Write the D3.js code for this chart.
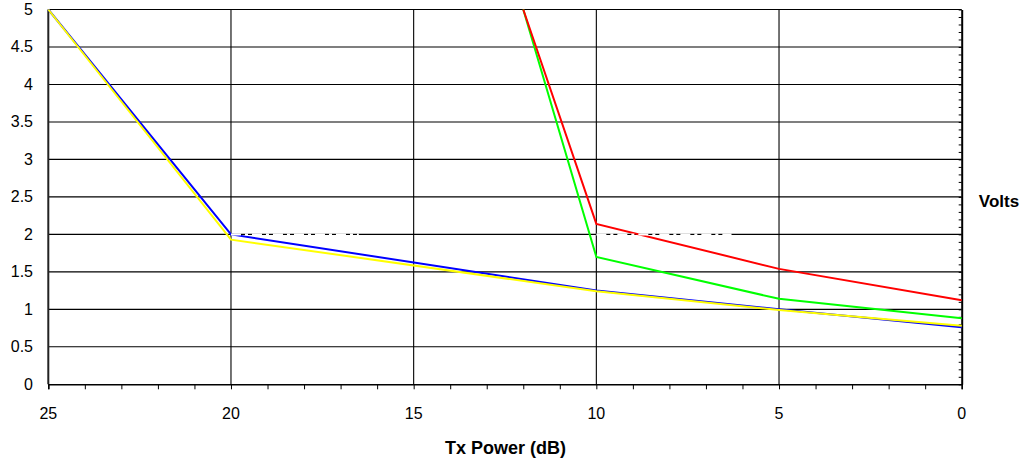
<!DOCTYPE html>
<html><head><meta charset="utf-8">
<script src="https://cdn.jsdelivr.net/npm/d3@7"></script>
<style>body{margin:0;background:#fff}svg{display:block}text{font-family:"Liberation Sans",Arial,sans-serif}</style>
</head><body><svg id="c" width="1023" height="461"></svg>
<script>
const xTicks = [25, 20, 15, 10, 5, 0];
const yTicks = [0, 0.5, 1, 1.5, 2, 2.5, 3, 3.5, 4, 4.5, 5];
const xLabel = "Tx Power (dB)";
const yLabel = "Volts";
const redX = [12, 10, 5, 0];
const redY = [5, 2.14, 1.54, 1.12];
const greenX = [12, 10, 5, 0];
const greenY = [5, 1.70, 1.14, 0.88];
const blueX = [25, 20, 10, 5, 0];
const blueY = [5, 2.0, 1.25, 1.0, 0.76];
const yellowX = [25, 20, 10, 5, 0];
const yellowY = [5, 1.93, 1.24, 0.99, 0.78];
const whiteX1 = [20, 16.5];
const whiteX2 = [10, 6.3];
const whiteY = [2, 2];

const svg = d3.select("#c");
const L = 48.3, R = 961.7, T = 9.5, B = 384.3;
const x = d3.scaleLinear().domain([25, 0]).range([L, R]);
const y = d3.scaleLinear().domain([0, 5]).range([B, T]);

// horizontal grid
svg.append("g").selectAll("line").data(yTicks.filter(d => d > 0)).join("line")
  .attr("x1", L).attr("x2", R).attr("y1", d => y(d)).attr("y2", d => y(d))
  .attr("stroke", "#000").attr("stroke-width", 1.1);
// vertical grid
svg.append("g").selectAll("line").data(xTicks.filter(d => d > 0 && d < 25)).join("line")
  .attr("x1", d => x(d)).attr("x2", d => x(d)).attr("y1", T).attr("y2", B)
  .attr("stroke", "#000").attr("stroke-width", 1.1);

// bottom axis
const xa = svg.append("g").attr("transform", `translate(0,${B})`)
  .call(d3.axisBottom(x).tickValues(d3.range(0, 26, 1)).tickSize(5).tickFormat(""));
xa.select(".domain").attr("stroke", "#000").attr("stroke-width", 1.5);
xa.selectAll(".tick line").attr("stroke", "#000");
svg.append("g").selectAll("text").data(xTicks).join("text")
  .attr("x", d => x(d)).attr("y", 419).attr("text-anchor", "middle")
  .attr("font-size", 16).text(d => d);

// left axis line and labels
svg.append("line").attr("x1", L).attr("x2", L).attr("y1", T).attr("y2", B)
  .attr("stroke", "#222").attr("stroke-width", 2);
svg.append("g").selectAll("text").data(yTicks).join("text")
  .attr("x", 33).attr("y", d => y(d) + 5.5).attr("text-anchor", "end")
  .attr("font-size", 16).text(d => d);

// right axis with inward minor ticks
const ra = svg.append("g").attr("transform", `translate(${R},0)`)
  .call(d3.axisLeft(y).tickValues(d3.range(0, 51).map(d => d / 10)).tickSize(3).tickSizeOuter(0).tickFormat(""));
ra.select(".domain").attr("stroke", "#000").attr("stroke-width", 2);
ra.selectAll(".tick line").attr("stroke", "#000");

const line = d3.line().x(d => x(d[0])).y(d => y(d[1]));
const zip = (a, b) => a.map((v, i) => [v, b[i]]);
const series = [
  [greenX, greenY, "#00ff00"],
  [redX, redY, "#ff0000"],
  [blueX, blueY, "#0000ff"],
  [yellowX, yellowY, "#ffff00"]
];
series.forEach(([sx, sy, c]) => {
  svg.append("path").attr("d", line(zip(sx, sy))).attr("fill", "none")
    .attr("stroke", c).attr("stroke-width", 2).attr("stroke-linejoin", "miter");
});
[whiteX1, whiteX2].forEach(wx => {
  svg.append("path").attr("d", line(zip(wx, whiteY))).attr("fill", "none")
    .attr("stroke", "#fff").attr("stroke-width", 2).attr("stroke-dasharray", "10,4,3,4");
});

svg.append("text").attr("x", 505.5).attr("y", 454).attr("text-anchor", "middle")
  .attr("font-size", 18).attr("font-weight", "bold").text(xLabel);
svg.append("text").attr("x", 999).attr("y", 207).attr("text-anchor", "middle")
  .attr("font-size", 17).attr("font-weight", "bold").text(yLabel);
</script></body></html>
